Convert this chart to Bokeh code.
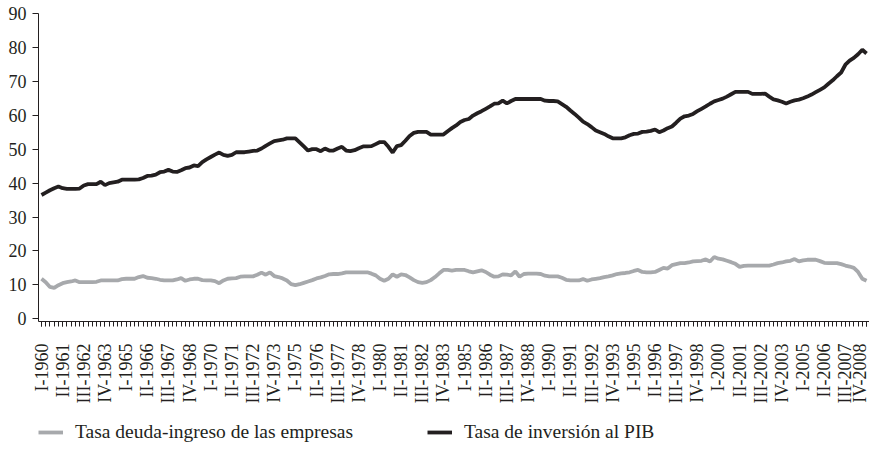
from bokeh.plotting import figure
from bokeh.models import (Range1d, FixedTicker, Legend, LegendItem)
from bokeh.layouts import column
from bokeh.embed import file_html
from bokeh.resources import INLINE
import math

# Quarterly series, I-1960 .. IV-2008 (196 quarters)
inversion_pib = [
    36.5, 37.2, 37.9, 38.5, 39.0, 38.5, 38.3, 38.3, 38.3, 38.4,
    39.3, 39.7, 39.7, 39.7, 40.4, 39.4, 40.0, 40.2, 40.4, 41.0,
    41.0, 41.0, 41.0, 41.1, 41.5, 42.1, 42.2, 42.5, 43.2, 43.4,
    43.9, 43.4, 43.3, 43.8, 44.4, 44.6, 45.2, 45.0, 46.2, 47.0,
    47.7, 48.4, 49.0, 48.3, 48.0, 48.3, 49.1, 49.1, 49.1, 49.3,
    49.5, 49.6, 50.2, 51.0, 51.7, 52.4, 52.6, 52.8, 53.2, 53.2,
    53.2, 52.0, 50.8, 49.6, 50.0, 50.0, 49.4, 50.2, 49.6, 49.6,
    50.2, 50.7, 49.6, 49.4, 49.7, 50.3, 50.8, 50.8, 50.9, 51.5,
    52.1, 52.1, 50.7, 49.0, 50.9, 51.2, 52.5, 53.9, 54.8, 55.1,
    55.1, 55.1, 54.3, 54.3, 54.3, 54.3, 55.3, 56.2, 57.0, 58.0,
    58.6, 58.9, 59.9, 60.6, 61.2, 61.9, 62.6, 63.4, 63.5, 64.3,
    63.5, 64.2, 64.8, 64.8, 64.8, 64.8, 64.8, 64.8, 64.8, 64.3,
    64.2, 64.2, 64.1, 63.3, 62.5, 61.4, 60.4, 59.3, 58.1, 57.4,
    56.5, 55.5, 55.0, 54.5, 53.8, 53.2, 53.2, 53.2, 53.5, 54.1,
    54.5, 54.6, 55.1, 55.2, 55.4, 55.8, 55.0, 55.5, 56.2, 56.7,
    57.8, 59.0, 59.7, 59.9, 60.4, 61.2, 61.9, 62.6, 63.4, 64.1,
    64.5, 64.9, 65.5, 66.2, 66.9, 66.9, 66.9, 66.9, 66.3, 66.3,
    66.3, 66.4, 65.5, 64.7, 64.4, 64.0, 63.5, 64.0, 64.4, 64.6,
    65.0, 65.5, 66.1, 66.8, 67.5, 68.2, 69.3, 70.3, 71.5, 72.6,
    74.9, 76.1, 76.9, 78.0, 79.3, 78.2,
]

deuda_ingreso = [
    11.8, 10.8, 9.4, 9.1, 9.9, 10.5, 10.8, 11.0, 11.3, 10.8,
    10.8, 10.8, 10.8, 10.9, 11.3, 11.3, 11.3, 11.3, 11.3, 11.7,
    11.8, 11.8, 11.8, 12.3, 12.6, 12.1, 12.0, 11.8, 11.5, 11.3,
    11.3, 11.3, 11.6, 12.0, 11.2, 11.6, 11.8, 11.8, 11.4, 11.3,
    11.3, 11.1, 10.5, 11.3, 11.8, 11.9, 12.0, 12.4, 12.5, 12.5,
    12.5, 13.0, 13.6, 13.0, 13.7, 12.6, 12.3, 11.9, 11.3, 10.2,
    9.9, 10.2, 10.6, 11.0, 11.4, 11.9, 12.2, 12.6, 13.1, 13.2,
    13.2, 13.4, 13.7, 13.7, 13.7, 13.7, 13.7, 13.7, 13.3, 12.8,
    11.8, 11.2, 11.8, 13.1, 12.4, 13.1, 12.9, 12.2, 11.4, 10.8,
    10.6, 10.8, 11.4, 12.3, 13.4, 14.4, 14.4, 14.2, 14.4, 14.4,
    14.4, 14.0, 13.7, 14.0, 14.3, 13.8, 13.0, 12.4, 12.5, 13.1,
    13.0, 12.8, 14.0, 12.4, 13.2, 13.3, 13.3, 13.3, 13.2, 12.7,
    12.5, 12.5, 12.5, 12.1, 11.5, 11.3, 11.3, 11.3, 11.7, 11.2,
    11.6, 11.8, 12.0, 12.3, 12.5, 12.8, 13.2, 13.4, 13.5, 13.7,
    14.1, 14.4, 13.8, 13.7, 13.7, 13.8, 14.4, 15.0, 14.8, 15.8,
    16.1, 16.4, 16.4, 16.6, 16.9, 17.0, 17.1, 17.5, 16.9, 18.2,
    17.7, 17.5, 17.1, 16.7, 16.2, 15.3, 15.6, 15.7, 15.7, 15.7,
    15.7, 15.7, 15.7, 16.0, 16.4, 16.6, 16.9, 17.1, 17.6, 16.9,
    17.2, 17.4, 17.4, 17.4, 17.0, 16.5, 16.4, 16.4, 16.4, 16.1,
    15.7, 15.4, 15.0, 13.8, 11.8, 11.2,
]

quarter_index = list(range(len(inversion_pib)))

tick_labels = [
    "I-1960", "II-1961", "III-1962", "IV-1963", "I-1965", "II-1966",
    "III-1967", "IV-1968", "I-1970", "II-1971", "III-1972", "IV-1973",
    "I-1975", "II-1976", "III-1977", "IV-1978", "I-1980", "II-1981",
    "III-1982", "IV-1983", "I-1985", "II-1986", "III-1987", "IV-1988",
    "I-1990", "II-1991", "III-1992", "IV-1993", "I-1995", "II-1996",
    "III-1997", "IV-1998", "I-2000", "II-2001", "III-2002", "IV-2003",
    "I-2005", "II-2006", "III-2007", "IV-2008",
]
tick_positions = list(range(0, len(quarter_index), 5))
y_ticks = [0, 10, 20, 30, 40, 50, 60, 70, 80, 90]

series_names = ["Tasa deuda-ingreso de las empresas", "Tasa de inversión al PIB"]

FONT = "'Liberation Serif', 'Times New Roman', serif"
INK = "#231f20"
GRAY = "#a7a9ac"
LW = 3.8

# ---- main chart ----
p = figure(width=869, height=407, output_backend="svg", toolbar_location=None,
           x_range=Range1d(-0.71, 195.7), y_range=Range1d(-0.8, 90),
           min_border_left=38, min_border_right=0, min_border_top=13,
           min_border_bottom=86)
p.outline_line_color = None
p.xgrid.grid_line_color = None
p.ygrid.grid_line_color = None
p.background_fill_color = "white"
p.border_fill_color = "white"

p.line(quarter_index, deuda_ingreso, line_color=GRAY, line_width=LW)
p.line(quarter_index, inversion_pib, line_color=INK, line_width=LW)

xa = p.xaxis[0]
xa.ticker = FixedTicker(ticks=tick_positions, minor_ticks=quarter_index)
xa.major_label_overrides = {pos: lab for pos, lab in zip(tick_positions, tick_labels)}
xa.major_label_orientation = math.pi / 2
xa.major_label_text_font = FONT
xa.major_label_text_font_size = "18px"
xa.major_label_text_color = INK
xa.major_label_standoff = 17
xa.major_tick_in = 0
xa.major_tick_out = 5
xa.minor_tick_in = 0
xa.minor_tick_out = 5
xa.major_tick_line_color = INK
xa.minor_tick_line_color = INK
xa.axis_line_color = INK

ya = p.yaxis[0]
ya.ticker = FixedTicker(ticks=y_ticks)
ya.major_label_text_font = FONT
ya.major_label_text_font_size = "18px"
ya.major_label_text_color = INK
ya.major_label_standoff = 6
ya.major_tick_in = 0
ya.major_tick_out = 6
ya.minor_tick_line_color = None
ya.major_tick_line_color = INK
ya.axis_line_color = INK

# ---- legend strip (keys only, no data drawn) ----
q = figure(width=869, height=40, output_backend="svg", toolbar_location=None,
           x_axis_type=None, y_axis_type=None, min_border=0)
q.outline_line_color = None
q.xgrid.grid_line_color = None
q.ygrid.grid_line_color = None
nan = float("nan")
lg = q.line(x=[nan], y=[nan], line_color=GRAY, line_width=LW)
lb = q.line(x=[nan], y=[nan], line_color=INK, line_width=LW)

legend = Legend(items=[LegendItem(label=series_names[0], renderers=[lg]),
                       LegendItem(label=series_names[1], renderers=[lb])],
                orientation="horizontal", location=(0, 4),
                margin=0, padding=0, spacing=74,
                glyph_width=25, glyph_height=20, label_standoff=12,
                label_text_font=FONT, label_text_font_size="19.5px",
                label_text_color=INK,
                border_line_color=None, background_fill_alpha=0)
q.add_layout(legend)

open("out.html", "w").write(file_html(column(p, q), INLINE))
